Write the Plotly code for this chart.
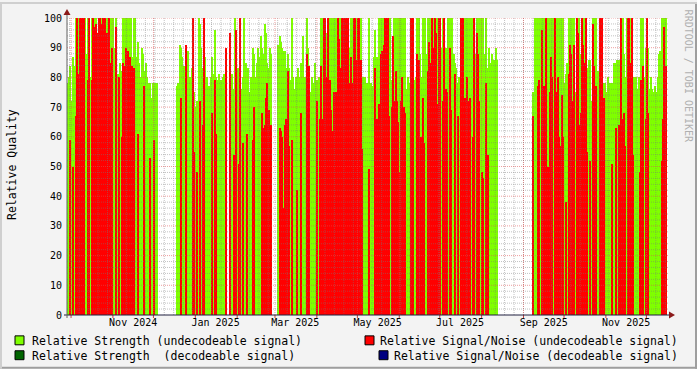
import plotly.graph_objects as go
import pandas as pd

# ---------------- data (one value per day, starting START) ----------------
START = "2024-09-28"

strength_undec = [
    78, 80, 84, 72, 87, 84, 100, 100, 100, 100,
    100, 100, 100, 100, 88, 100, 100, 80, 100, 100,
    100, 100, 94, 100, 100, 100, 100, 100, 100, 100,
    100, 100, 100, 100, 100, 90, 100, 81, 81, 85,
    82, 100, 100, 100, 100, 100, 100, 100, 87, 100,
    100, 87, 92, 85, 80, 90, 88, 82, 85, 80,
    78, 78, 73, 78, 78, 78, 78, None, None, None,
    None, None, None, None, None, None, None, None, None, None,
    None, 77, 78, 91, 90, 87, 84, 80, 85, 89,
    72, 80, 83, 100, 75, 70, 72, 100, 98, 90,
    83, 100, 87, 80, 75, 77, 80, 87, 81, 96,
    80, 79, 81, 76, 79, 80, 81, 80, None, None,
    80, 74, 81, 76, 100, 90, 83, 82, 83, 76,
    80, 100, 85, 80, 83, 75, 80, 90, 88, 80,
    85, 90, 87, 94, 90, 88, 98, 95, 85, 83,
    90, 88, None, None, None, None, 91, 94, 92, 90,
    89, 89, 83, 88, 83, 79, 100, 80, 76, 80,
    78, 83, 80, 85, 94, 77, 80, 100, 90, 83,
    75, 80, 78, 85, 78, 79, 80, 79, 100, 100,
    100, 100, 95, 100, 100, 98, 100, 100, 100, 100,
    100, 100, 100, 100, 100, 100, 100, 100, 85, 90,
    100, 100, 100, 100, 100, 100, 100, 100, 77, 80,
    80, 78, 78, 100, 77, 78, 77, 87, 96, 87,
    None, 100, 100, 100, 100, 100, 100, 100, 100, 100,
    79, 79, 100, 100, 100, 100, 100, 100, 100, 100,
    100, 76, 80, 78, 100, 100, 100, 79, 80, 100,
    100, 88, 80, 100, 100, 100, 88, 100, 100, 100,
    100, 100, 100, 100, 100, 100, 100, 90, 100, 100,
    90, 90, 100, 100, 100, 100, 88, 85, 83, 78,
    80, 100, 94, 100, 100, 100, 100, 100, 100, 100,
    100, 100, 88, 100, 100, 100, 100, 100, 100, 88,
    100, 83, 90, 85, 88, 86, 86, 90, 86, None,
    None, None, None, None, None, None, None, None, None, None,
    None, None, None, None, None, None, None, None, None, None,
    None, None, None, None, None, 75, 100, 100, 100, 100,
    100, 100, 100, 100, 100, 100, 100, 100, 96, 100,
    100, 100, 100, 100, 100, 100, 100, 100, 78, 81,
    85, 100, 100, 100, 100, 100, 75, 100, 88, 100,
    88, 100, 100, 100, 100, 83, 86, 86, 72, 100,
    100, 100, 82, 82, 100, 100, 100, 78, 78, 75,
    80, 72, 78, 78, 78, 85, 85, 86, 86, 80,
    100, 100, 88, 80, 100, 100, 100, 100, 100, 80,
    80, 80, 76, 80, 80, 100, 100, 80, 90, 100,
    90, 76, 80, 76, 75, 77, 75, 80, 88, 89,
    100, 100, 100, 100,
]

snr_undec = [
    0, 0, 59, 0, 50, 0, 67, 100, 81, 100,
    100, 100, 100, 0, 0, 79, 100, 0, 79, 100,
    97, 98, 95, 100, 100, 98, 100, 94, 100, 95,
    84, 100, 85, 90, 0, 0, 97, 0, 80, 0,
    60, 85, 84, 90, 0, 89, 87, 84, 84, 83,
    0, 0, 61, 0, 0, 0, 0, 77, 0, 0,
    0, 53, 0, 0, 59, 0, 0, None, None, None,
    None, None, None, None, None, None, None, None, None, None,
    None, 0, 0, 0, 73, 0, 0, 0, 91, 0,
    0, 0, 0, 100, 55, 0, 48, 0, 72, 0,
    64, 100, 0, 0, 0, 0, 0, 68, 0, 79,
    61, 0, 0, 0, 0, 0, 0, 90, None, None,
    95, 0, 0, 54, 0, 96, 0, 51, 100, 0,
    58, 0, 0, 61, 0, 0, 0, 59, 70, 0,
    0, 0, 0, 0, 68, 63, 64, 73, 78, 69,
    64, 64, None, None, None, None, 0, 63, 62, 60,
    36, 64, 66, 82, 57, 0, 59, 0, 0, 0,
    42, 0, 0, 68, 0, 0, 0, 88, 63, 84,
    0, 0, 0, 0, 0, 72, 0, 66, 84, 66,
    100, 100, 80, 100, 79, 69, 62, 75, 0, 75,
    100, 93, 83, 100, 71, 100, 100, 87, 100, 78,
    87, 78, 100, 100, 86, 100, 100, 86, 56, 0,
    0, 0, 0, 49, 0, 0, 0, 0, 83, 66,
    None, 71, 88, 89, 91, 100, 100, 100, 67, 0,
    70, 94, 72, 82, 72, 65, 48, 72, 80, 70,
    68, 0, 0, 0, 100, 100, 100, 0, 0, 88,
    86, 53, 60, 73, 58, 0, 0, 82, 92, 85,
    100, 90, 100, 95, 71, 100, 100, 0, 72, 100,
    76, 75, 0, 90, 69, 0, 0, 81, 0, 67,
    0, 100, 77, 100, 73, 0, 80, 72, 73, 0,
    60, 100, 0, 95, 88, 72, 0, 48, 46, 0,
    78, 54, 0, 0, 0, 0, 0, 0, 0, None,
    None, None, None, None, None, None, None, None, None, None,
    None, None, None, None, None, None, None, None, None, None,
    None, None, None, None, None, 67, 0, 0, 77, 79,
    0, 96, 63, 77, 100, 0, 50, 75, 87, 80,
    0, 100, 75, 80, 60, 57, 74, 60, 0, 38,
    0, 81, 91, 88, 72, 91, 0, 100, 95, 64,
    68, 100, 91, 85, 100, 55, 0, 52, 0, 98,
    84, 77, 0, 0, 100, 100, 100, 73, 0, 0,
    0, 0, 0, 51, 0, 0, 63, 0, 64, 0,
    100, 66, 68, 57, 0, 100, 100, 85, 100, 54,
    0, 0, 0, 0, 48, 79, 84, 0, 66, 100,
    68, 0, 0, 0, 0, 0, 0, 0, 0, 0,
    52, 66, 97, 84,
]

month_labels = ["Nov 2024", "Jan 2025", "Mar 2025", "May 2025",
                "Jul 2025", "Sep 2025", "Nov 2025"]
label_dates = ["2024-11-16", "2025-01-16", "2025-03-16", "2025-05-16",
               "2025-07-16", "2025-09-16", "2025-11-16"]
y_ticks = list(range(0, 101, 10))

legend_names = ["Relative Strength (undecodeable signal)",
                "Relative Strength\u00a0 (decodeable signal)",
                "Relative Signal/Noise (undecodeable signal)",
                "Relative Signal/Noise (decodeable signal)"]
legend_colors = ["#7fff00", "#006400", "#ff0000", "#000080"]

# ---------------- figure ----------------
W, H = 697, 369
L, R, T, B = 67, 668, 16, 315
FONT = "DejaVu Sans Mono"

def X(px):
    return (px - L) / (R - L)

def Y(py):
    return (B - py) / (B - T)

dates = pd.date_range(START, periods=len(strength_undec), freq="D")
DAY_MS = 86400000
x_end = pd.Timestamp(START) + pd.Timedelta(days=445)

fig = go.Figure()
fig.add_trace(go.Bar(x=dates, y=strength_undec, width=DAY_MS, offset=0,
                     marker=dict(color=legend_colors[0], line=dict(width=0)),
                     name=legend_names[0], hoverinfo="skip"))
fig.add_trace(go.Bar(x=dates, y=snr_undec, width=DAY_MS, offset=0,
                     marker=dict(color=legend_colors[2], line=dict(width=0)),
                     name=legend_names[2], hoverinfo="skip"))

shapes = []
minor_col = "rgba(120,120,120,0.45)"
major_col = "rgba(222,80,80,0.55)"
dash = "1px,1px"
months = pd.date_range("2024-10-01", "2025-12-01", freq="MS")
weeks = pd.date_range("2024-09-30", "2025-12-15", freq="7D")
for w in weeks:
    shapes.append(dict(type="line", xref="x", yref="paper", x0=w, x1=w, y0=0, y1=1,
                       line=dict(color=minor_col, width=1, dash=dash), layer="above"))
for m in months:
    shapes.append(dict(type="line", xref="x", yref="paper", x0=m, x1=m, y0=0, y1=1,
                       line=dict(color=major_col, width=1, dash=dash), layer="above"))
    shapes.append(dict(type="line", xref="x", yref="paper", x0=m, x1=m,
                       y0=Y(B), y1=Y(B + 3),
                       line=dict(color="#c04040", width=1), layer="above"))
for v in range(2, 101, 2):
    col = major_col if v % 10 == 0 else minor_col
    shapes.append(dict(type="line", xref="paper", yref="y", x0=0, x1=1, y0=v, y1=v,
                       line=dict(color=col, width=1, dash=dash), layer="above"))

# axes + arrows
shapes.append(dict(type="line", xref="paper", yref="paper", x0=X(64), x1=X(670),
                   y0=0, y1=0, line=dict(color="#202040", width=1), layer="above"))
shapes.append(dict(type="line", xref="paper", yref="paper", x0=0, x1=0,
                   y0=Y(318), y1=Y(12), line=dict(color="#606060", width=1), layer="above"))
shapes.append(dict(type="path", xref="paper", yref="paper",
                   path=f"M {X(63.5)},{Y(13)} L {X(70.5)},{Y(13)} L {X(67)},{Y(7)} Z",
                   fillcolor="#8b1a1a", line=dict(width=0), layer="above"))
shapes.append(dict(type="path", xref="paper", yref="paper",
                   path=f"M {X(669)},{Y(311.5)} L {X(669)},{Y(318.5)} L {X(675)},{Y(315)} Z",
                   fillcolor="#8b1a1a", line=dict(width=0), layer="above"))

# frame shading
shapes.append(dict(type="line", xref="paper", yref="paper", x0=X(0), x1=X(W),
                   y0=Y(H - 1), y1=Y(H - 1), line=dict(color="#9e9e9e", width=2)))
shapes.append(dict(type="line", xref="paper", yref="paper", x0=X(W - 1), x1=X(W - 1),
                   y0=Y(0), y1=Y(H), line=dict(color="#9e9e9e", width=2)))
shapes.append(dict(type="line", xref="paper", yref="paper", x0=X(0), x1=X(W),
                   y0=Y(1), y1=Y(1), line=dict(color="#cfcfcf", width=2)))
shapes.append(dict(type="line", xref="paper", yref="paper", x0=X(1), x1=X(1),
                   y0=Y(0), y1=Y(H), line=dict(color="#cfcfcf", width=2)))

# legend boxes
box_pos = [(15, 336), (15, 351), (365, 336), (379, 351)]
for (bx, by), col in zip(box_pos, legend_colors):
    shapes.append(dict(type="rect", xref="paper", yref="paper",
                       x0=X(bx), x1=X(bx + 9), y0=Y(by + 9), y1=Y(by),
                       fillcolor=col, line=dict(color="#000000", width=1)))

annotations = []
leg_text = [(30, 341, "left"), (30, 356, "left"), (680, 341, "right"), (680, 356, "right")]
for (tx, ty, anc), name in zip(leg_text, legend_names):
    annotations.append(dict(text=name, xref="paper", yref="paper", x=X(tx), y=Y(ty),
                            xanchor=anc, yanchor="middle", showarrow=False,
                            font=dict(family=FONT, size=11.5, color="#000000")))
annotations.append(dict(text="Relative Quality", xref="paper", yref="paper",
                        x=X(12), y=Y(164), textangle=-90, xanchor="center", yanchor="middle",
                        showarrow=False, font=dict(family=FONT, size=11.5, color="#000000")))
annotations.append(dict(text="RRDTOOL / TOBI OETIKER", xref="paper", yref="paper",
                        x=X(688), y=Y(74), textangle=90, xanchor="center", yanchor="middle",
                        showarrow=False, font=dict(family=FONT, size=10, color="#b0b0b0")))

fig.update_layout(
    width=W, height=H,
    margin=dict(l=L, r=W - R, t=T, b=H - B),
    paper_bgcolor="#f3f3f3", plot_bgcolor="#ffffff",
    barmode="overlay", bargap=0, showlegend=False,
    shapes=shapes, annotations=annotations,
    xaxis=dict(type="date", range=[pd.Timestamp(START), x_end],
               tickvals=label_dates, ticktext=month_labels, ticks="",
               showgrid=False, zeroline=False, showline=False, fixedrange=True,
               tickfont=dict(family=FONT, size=10, color="#000000")),
    yaxis=dict(range=[0, 100], tickvals=y_ticks, ticks="", showgrid=False,
               zeroline=False, showline=False, fixedrange=True, ticklabelstandoff=4,
               tickfont=dict(family=FONT, size=10, color="#000000")),
)

fig.write_html("out.html")
